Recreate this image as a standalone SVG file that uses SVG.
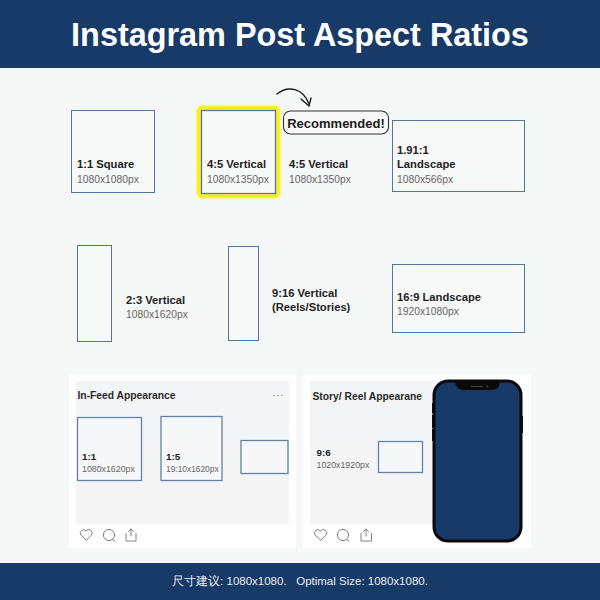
<svg xmlns="http://www.w3.org/2000/svg" width="600" height="600" viewBox="0 0 600 600">
<defs><filter id="glow" x="-20%" y="-20%" width="140%" height="140%"><feGaussianBlur stdDeviation="1.200"/></filter>
<linearGradient id="fade" x1="0" y1="0" x2="0" y2="1"><stop offset="0" stop-color="#f3f4f5"/><stop offset="1" stop-color="#f5f5f6"/></linearGradient></defs>
<style>
text{font-family:"Liberation Sans",sans-serif}
.b{font-weight:700;font-size:11.2px;fill:#222}
.s{font-size:10.300px;fill:#666}
.b2{font-weight:700;font-size:9.800px;fill:#222}
.s2{font-size:8.800px;fill:#666}
.h{font-weight:700;font-size:10.300px;fill:#2a2a2a}
.r{fill:#f7f8f8;stroke:#55769c;stroke-width:1}
.r2{fill:#f6f7f8;stroke:#6582a3;stroke-width:1.300}
.i{fill:none;stroke:#808080;stroke-width:1;stroke-linejoin:round;stroke-linecap:round}
</style>
<rect width="600" height="600" fill="#f6f7f7"/>
<g id="header"><rect width="600" height="68" fill="#173a68"/>
<text x="300" y="46" text-anchor="middle" font-weight="700" font-size="32.400" fill="#fff">Instagram Post Aspect Ratios</text></g>
<g id="n-1-1"><rect class="r" x="71.500" y="110.500" width="83" height="82"/><text class="b" x="77" y="168">1:1 Square</text><text class="s" x="77" y="183">1080x1080px</text></g>
<g id="n-4-5-highlight"><rect x="199" y="108" width="79" height="88" rx="3" fill="none" stroke="#f9f27a" stroke-width="5.500" filter="url(#glow)"/><rect x="199" y="108" width="79" height="88" rx="3" fill="none" stroke="#f7ee1e" stroke-width="3.600"/><rect class="r" x="201.500" y="110.500" width="74" height="83" style="stroke-width:1.300"/><text class="b" x="207" y="168">4:5 Vertical</text><text class="s" x="207" y="183">1080x1350px</text></g>
<g id="n-4-5"><text class="b" x="289" y="168">4:5 Vertical</text><text class="s" x="289" y="183">1080x1350px</text></g>
<g id="n-recommended"><rect x="283.500" y="111" width="105" height="23" rx="7" fill="#f8f8f8" stroke="#333" stroke-width="1.100"/><text x="336" y="127.500" text-anchor="middle" font-weight="700" font-size="13" fill="#1c1c1c">Recommended!</text></g>
<g id="n-191"><rect class="r" x="392.500" y="120.500" width="132" height="71"/><text class="b" x="397" y="154">1.91:1</text><text class="b" x="397" y="168">Landscape</text><text class="s" x="397" y="183">1080x566px</text></g>
<g id="n-2-3"><rect class="r" x="77.500" y="245.500" width="34" height="96"/><text class="b" x="126" y="304">2:3 Vertical</text><text class="s" x="126" y="318">1080x1620px</text></g>
<g id="n-9-16"><rect class="r" x="228.500" y="246.500" width="30" height="94"/><text class="b" x="272" y="297">9:16 Vertical</text><text class="b" x="272" y="311">(Reels/Stories)</text></g>
<g id="n-16-9"><rect class="r" x="392.500" y="264.500" width="132" height="68"/><text class="b" x="397" y="301">16:9 Landscape</text><text class="s" x="397" y="315">1920x1080px</text></g>
<g id="panel-feed"><rect x="69" y="374" width="227" height="174" fill="#fff"/><rect x="76" y="381" width="213" height="143" fill="url(#fade)"/>
<text class="h" x="77.500" y="399">In-Feed Appearance</text>
<g fill="#888"><circle cx="274" cy="395.500" r=".7"/><circle cx="278" cy="395.500" r=".7"/><circle cx="282" cy="395.500" r=".7"/></g>
<rect class="r2" x="77.500" y="417.500" width="64" height="63"/><text class="b2" x="82" y="460">1:1</text><text class="s2" x="82" y="472">1080x1620px</text>
<rect class="r2" x="161" y="416.500" width="61" height="64"/><text class="b2" x="166" y="460">1:5</text><text class="s2" x="166" y="472" style="font-size:8.400px">19:10x1620px</text>
<rect class="r2" x="241" y="440.500" width="47" height="33"/>
<path class="i" d="M86 540 L81 535 A3.200 3.200 0 0 1 86 531 A3.200 3.200 0 0 1 91.500 535 Z"/>
<circle class="i" cx="109" cy="535" r="5.600"/><path class="i" d="M112.500 539.500 L115 541"/>
<path class="i" d="M126 533.500 V541 H136 V533.500 M131 536 V529 M128.500 531.500 L131 529 L133.500 531.500"/></g>
<g id="panel-story"><rect x="303" y="374" width="228" height="174" fill="#fff"/><rect x="310" y="381" width="125" height="143" fill="url(#fade)"/>
<text class="h" x="312.500" y="400">Story/ Reel Appearane</text>
<text class="b2" x="316.500" y="456">9:6</text><text class="s2" x="316.500" y="468">1020x1920px</text>
<rect class="r2" x="378.500" y="441.500" width="44" height="31"/>
<path class="i" d="M320.500 540 L315 535 A3.200 3.200 0 0 1 320.500 531 A3.200 3.200 0 0 1 326 535 Z"/>
<circle class="i" cx="343" cy="535" r="5.600"/><path class="i" d="M346.500 539.500 L349 541"/>
<path class="i" d="M361 533.500 V541 H371.500 V533.500 M366 536 V529 M363.500 531.500 L366 529 L368.500 531.500"/></g>
<g id="phone">
<rect x="432" y="403" width="2.500" height="10" fill="#111"/><rect x="432" y="415" width="2.500" height="13" fill="#111"/><rect x="432" y="429" width="2.500" height="12" fill="#111"/><rect x="520" y="416" width="3" height="17" fill="#111"/>
<rect x="434" y="381" width="87" height="160" rx="14" fill="#173a68" stroke="#0a0a0a" stroke-width="3"/>
<path d="M455 380 H500 V381 Q500 390 491 390 H464 Q455 390 455 381 Z" fill="#0a0a0a"/>
<rect x="471" y="386" width="12" height="1" fill="#444"/><circle cx="487.500" cy="386.500" r="1" fill="#444"/></g>
<g id="footer"><rect y="563" width="600" height="37" fill="#173a68"/>
<text x="300" y="585" text-anchor="middle" font-family="'Liberation Sans','Noto Sans CJK SC',sans-serif" font-size="11.500" fill="#e8edf3" xml:space="preserve">尺寸建议: 1080x1080.   Optimal Size: 1080x1080.</text></g>
<g id="connectors" fill="none" stroke="#1a1a1a" stroke-width="1.400" stroke-linecap="round" stroke-linejoin="round">
<path d="M277 94 C288 85 303 88 309 104"/><path d="M301 99 L309 106 L311 98"/></g>
</svg>
